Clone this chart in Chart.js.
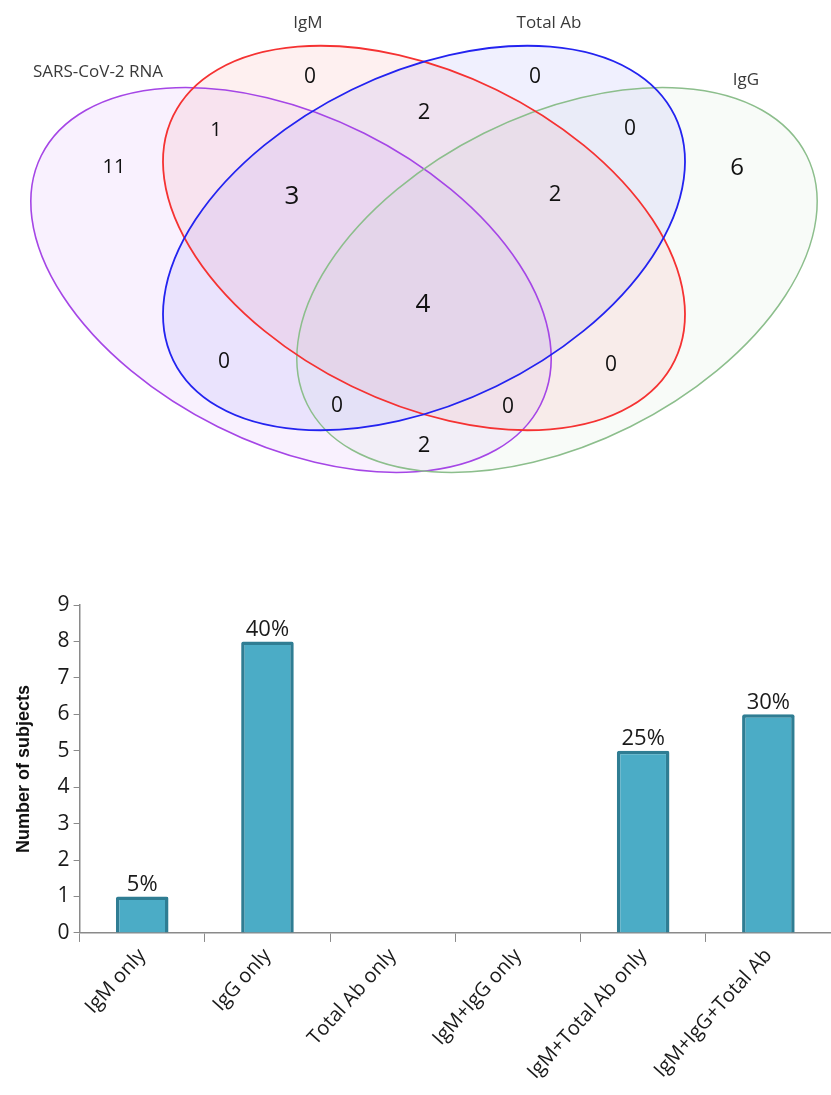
<!DOCTYPE html>
<html>
<head>
<meta charset="utf-8">
<script src="https://cdn.jsdelivr.net/npm/chart.js@4/dist/chart.umd.min.js"></script>
<style>
  html, body { margin: 0; padding: 0; background: #fff; overflow: hidden; }
  canvas { display: block; }
</style>
</head>
<body>
<canvas id="vennChart" width="831" height="490"></canvas>
<canvas id="barChart" width="831" height="605"></canvas>
<script>
// Datos del diagrama de Venn
const setNames = ['SARS-CoV-2 RNA', 'IgM', 'Total Ab', 'IgG'];
const vennCounts = [11, 1, 0, 2, 0, 0, 6, 3, 2, 4, 0, 0, 0, 0, 2];

// Datos del gráfico de barras
const barCategories = ['IgM only', 'IgG only', 'Total Ab only', 'IgM+IgG only', 'IgM+Total Ab only', 'IgM+IgG+Total Ab'];
const barValues = [1, 8, 0, 0, 5, 6];
const barPercents = ['5%', '40%', '', '', '25%', '30%'];
const yTicks = [0, 1, 2, 3, 4, 5, 6, 7, 8, 9];

// Geometría del Venn (unidades del eje)
const ellipses = [
    { cx: 291, cy: 280, rx: 279, ry: 164, rot: 26.5, stroke: 'rgb(165,70,230)', fill: 'rgba(185,100,240,0.09)', lw: 1.6 },
    { cx: 557, cy: 280, rx: 279, ry: 164, rot: -26.5, stroke: 'rgb(140,190,140)', fill: 'rgba(150,195,150,0.07)', lw: 1.5 },
    { cx: 424, cy: 238, rx: 279, ry: 165, rot: 26, stroke: 'rgb(245,50,50)', fill: 'rgba(240,70,70,0.08)', lw: 1.8 },
    { cx: 424, cy: 238, rx: 279, ry: 165, rot: -26, stroke: 'rgb(35,35,240)', fill: 'rgba(60,60,240,0.08)', lw: 1.8 }
];
const setLabelPos = [[98, 72], [308, 23], [549, 23], [746, 80]];
const countPos = [
    [114, 167], [216, 130], [310, 77], [424, 113], [535, 77], [630, 129], [737, 168],
    [292, 197], [555, 195], [423, 305], [224, 362], [611, 365], [337, 406], [508, 407], [424, 446]
];
const countSize = [20, 20, 21, 22, 21, 21, 24, 26, 22, 26, 21, 21, 21, 21, 22];

const vennPlugin = {
    id: 'vennShapes',
    beforeDatasetsDraw(chart) {
        const { ctx, scales: { x, y } } = chart;
        ctx.save();
        ellipses.forEach(e => {
            const px = x.getPixelForValue(e.cx);
            const py = y.getPixelForValue(e.cy);
            const rx = Math.abs(x.getPixelForValue(e.cx + e.rx) - px);
            const ry = Math.abs(y.getPixelForValue(e.cy + e.ry) - py);
            ctx.beginPath();
            ctx.ellipse(px, py, rx, ry, e.rot * Math.PI / 180, 0, Math.PI * 2);
            ctx.fillStyle = e.fill;
            ctx.fill();
        });
        ellipses.forEach(e => {
            const px = x.getPixelForValue(e.cx);
            const py = y.getPixelForValue(e.cy);
            const rx = Math.abs(x.getPixelForValue(e.cx + e.rx) - px);
            const ry = Math.abs(y.getPixelForValue(e.cy + e.ry) - py);
            ctx.beginPath();
            ctx.ellipse(px, py, rx, ry, e.rot * Math.PI / 180, 0, Math.PI * 2);
            ctx.strokeStyle = e.stroke;
            ctx.lineWidth = e.lw;
            ctx.stroke();
        });
        ctx.restore();
    },
    afterDatasetsDraw(chart) {
        const { ctx } = chart;
        ctx.save();
        ctx.textAlign = 'center';
        ctx.textBaseline = 'middle';
        // Nombres de los conjuntos
        chart.getDatasetMeta(0).data.forEach((pt, i) => {
            ctx.font = '17px "Open Sans", sans-serif';
            ctx.fillStyle = '#3a3a3a';
            ctx.fillText(setNames[i], pt.x, pt.y);
        });
        // Conteos
        chart.getDatasetMeta(1).data.forEach((pt, i) => {
            ctx.font = countSize[i] + 'px "Open Sans", sans-serif';
            ctx.fillStyle = '#111';
            ctx.fillText(String(vennCounts[i]), pt.x, pt.y);
        });
        ctx.restore();
    }
};

new Chart(document.getElementById('vennChart'), {
    type: 'scatter',
    data: {
        datasets: [
            { data: setLabelPos.map(p => ({ x: p[0], y: p[1] })), pointRadius: 0 },
            { data: countPos.map(p => ({ x: p[0], y: p[1] })), pointRadius: 0 }
        ]
    },
    options: {
        responsive: false,
        animation: false,
        layout: { padding: 0 },
        plugins: { legend: { display: false }, tooltip: { enabled: false } },
        scales: {
            x: { type: 'linear', min: 0, max: 831, display: false },
            y: { type: 'linear', min: 0, max: 490, reverse: true, display: false }
        }
    },
    plugins: [vennPlugin]
});

// Etiquetas de porcentaje encima de las barras
const percentPlugin = {
    id: 'percentLabels',
    afterDatasetsDraw(chart) {
        const { ctx } = chart;
        ctx.save();
        ctx.font = '22px "Open Sans", sans-serif';
        ctx.fillStyle = '#1a1a1a';
        ctx.textAlign = 'center';
        ctx.textBaseline = 'bottom';
        chart.getDatasetMeta(0).data.forEach((bar, i) => {
            if (!barPercents[i]) return;
            ctx.fillText(barPercents[i], bar.x, bar.y - 1);
        });
        ctx.restore();
    }
};

new Chart(document.getElementById('barChart'), {
    type: 'bar',
    data: {
        labels: barCategories,
        datasets: [{
            data: barValues,
            backgroundColor: '#4BACC6',
            borderColor: '#2F7D93',
            borderWidth: (c) => (c.raw === 0 ? 0 : 3.5),
            borderSkipped: 'bottom',
            borderRadius: 2,
            barPercentage: 0.42,
            categoryPercentage: 1
        }]
    },
    options: {
        responsive: false,
        animation: false,
        layout: { padding: { top: 115, left: 13, right: 0, bottom: 9 } },
        plugins: { legend: { display: false }, tooltip: { enabled: false } },
        scales: {
            x: {
                grid: { display: true, drawOnChartArea: false, tickLength: 9, color: '#8a8a8a', lineWidth: 1 },
                border: { color: '#8a8a8a', width: 1.5 },
                ticks: {
                    color: '#1a1a1a',
                    font: { family: '"Open Sans", sans-serif', size: 20 },
                    minRotation: 48,
                    maxRotation: 48,
                    autoSkip: false,
                    padding: 2
                }
            },
            y: {
                min: 0,
                max: 9,
                afterBuildTicks: (axis) => { axis.ticks = yTicks.map(v => ({ value: v })); },
                grid: { display: true, drawOnChartArea: false, tickLength: 6, color: '#8a8a8a', lineWidth: 1 },
                border: { color: '#8a8a8a', width: 1.5 },
                ticks: {
                    color: '#1a1a1a',
                    font: { family: '"Open Sans", sans-serif', size: 21 },
                    padding: 4
                },
                title: {
                    display: true,
                    text: 'Number of subjects',
                    color: '#111',
                    font: { family: '"Liberation Sans", Arial, sans-serif', size: 18, weight: 'bold' },
                    padding: { top: 0, bottom: 19 }
                }
            }
        }
    },
    plugins: [percentPlugin]
});
</script>
</body>
</html>
